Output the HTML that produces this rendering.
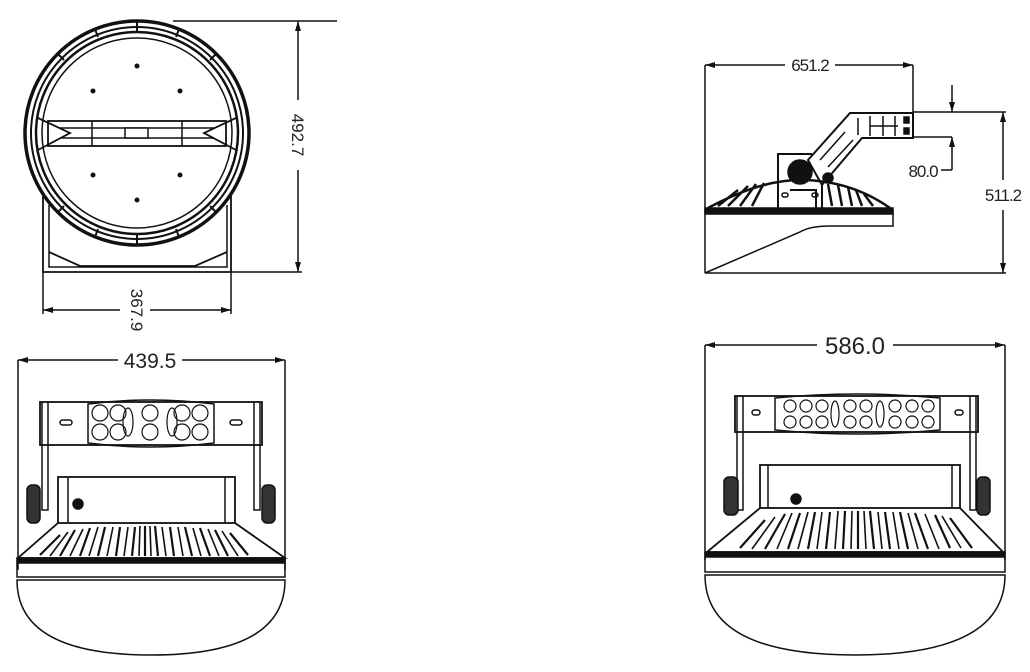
<!DOCTYPE html>
<html><head><meta charset="utf-8"><style>
html,body{margin:0;padding:0;background:#fff;}
svg{display:block;}
text{font-family:"Liberation Sans",sans-serif;fill:#222;}
</style></head><body>
<svg width="1030" height="672" viewBox="0 0 1030 672" xmlns="http://www.w3.org/2000/svg">
<defs>
<marker id="a" markerWidth="10" markerHeight="6" refX="10" refY="3" orient="auto" markerUnits="userSpaceOnUse"><path d="M0,0 L10,3 L0,6Z" fill="#111"/></marker>
</defs>
<g stroke="#111" fill="none" stroke-width="1.5">
<!-- TOP LEFT -->
<circle cx="137" cy="133" r="112" stroke-width="3.5"/>
<circle cx="137" cy="133" r="106" stroke-width="2"/>
<circle cx="137" cy="133" r="101" stroke-width="2.5"/>
<circle cx="137" cy="133" r="95" stroke-width="1.5"/>
<g stroke-width="2">
<line x1="137" y1="21" x2="137" y2="32"/><line x1="137" y1="234" x2="137" y2="245"/>
<line x1="58" y1="54" x2="64" y2="60"/><line x1="216" y1="54" x2="210" y2="60"/>
<line x1="58" y1="212" x2="64" y2="206"/><line x1="216" y1="212" x2="210" y2="206"/>
<line x1="95" y1="29" x2="98" y2="37"/><line x1="179" y1="29" x2="176" y2="37"/>
<line x1="95" y1="237" x2="98" y2="229"/><line x1="179" y1="237" x2="176" y2="229"/>
</g>
<rect x="48" y="121" width="178" height="25" stroke-width="1.8"/>
<line x1="60" y1="128" x2="214" y2="128"/><line x1="60" y1="138" x2="214" y2="138"/>
<line x1="92" y1="121" x2="92" y2="146"/><line x1="182" y1="121" x2="182" y2="146"/>
<rect x="125" y="128" width="23" height="10" fill="#fff"/>
<path d="M38,118 L70,133 L38,150 M236,118 L204,133 L236,150" stroke-width="1.8"/>
<g fill="#111" stroke="none">
<circle cx="137" cy="66" r="2.5"/><circle cx="93" cy="91" r="2.5"/><circle cx="180" cy="91" r="2.5"/>
<circle cx="93" cy="175" r="2.5"/><circle cx="180" cy="175" r="2.5"/><circle cx="137" cy="200" r="2.5"/>
</g>
<path d="M43,196 L43,272 L231,272 L231,196" stroke-width="1.8"/>
<path d="M49,205 L49,267 L227,267 L227,205"/>
<path d="M49,252 L80,266 L195,266 L227,252" stroke-width="1.8"/>
<!-- 492.7 -->
<line x1="173" y1="21" x2="337" y2="21"/>
<line x1="231" y1="272" x2="302" y2="272"/>
<line x1="298" y1="100" x2="298" y2="21" marker-end="url(#a)"/>
<line x1="298" y1="170" x2="298" y2="272" marker-end="url(#a)"/>
<!-- 367.9 -->
<line x1="43" y1="272" x2="43" y2="314"/>
<line x1="231" y1="272" x2="231" y2="314"/>
<line x1="120" y1="310" x2="43" y2="310" marker-end="url(#a)"/>
<line x1="150" y1="310" x2="231" y2="310" marker-end="url(#a)"/>

<!-- TOP RIGHT -->
<line x1="705" y1="65" x2="705" y2="273"/>
<line x1="913" y1="65" x2="913" y2="138"/>
<line x1="785" y1="65" x2="705" y2="65" marker-end="url(#a)"/>
<line x1="835" y1="65" x2="913" y2="65" marker-end="url(#a)"/>
<line x1="705" y1="273" x2="1006" y2="273"/>
<line x1="913" y1="112" x2="1006" y2="112"/>
<line x1="1003" y1="180" x2="1003" y2="112" marker-end="url(#a)"/>
<line x1="1003" y1="210" x2="1003" y2="273" marker-end="url(#a)"/>
<line x1="952" y1="85" x2="952" y2="112" marker-end="url(#a)"/>
<line x1="913" y1="137" x2="952" y2="137"/>
<line x1="952" y1="170" x2="952" y2="137" marker-end="url(#a)"/>
<line x1="941" y1="170" x2="952" y2="170"/>
<path d="M705,273 L800,232 Q810,226 830,226 L893,226 L893,210" />
<rect x="705" y="208" width="188" height="6" fill="#111"/>
<path d="M708,208 Q760,180 800,180 Q850,180 890,208" stroke-width="2.5"/>
<path d="M718,206 L738,190 M728,206 L748,186 M740,206 L756,184 M752,206 L764,183 M832,206 L828,184 M842,206 L838,185 M852,206 L848,187 M862,206 L856,190 M873,206 L864,194" stroke-width="2.5"/>
<path d="M778,210 L778,154 L812,154 M822,185 L822,210 M790,190 L816,190 L816,210" stroke-width="2"/>
<rect x="782" y="193" width="6" height="4" rx="2"/><rect x="812" y="193" width="6" height="4" rx="2"/>
<circle cx="800" cy="172" r="12" fill="#111"/>
<circle cx="828" cy="178" r="5" fill="#111"/>
<path d="M808,160 L850,113 L913,113 L913,138 L862,138 L822,185 Z" stroke-width="2"/>
<path d="M820,160 L845,132 M828,167 L853,140 M858,118 L858,135 M870,116 L870,136 M883,116 L883,136 M895,116 L895,136 M870,126 L898,126"/>
<rect x="904" y="117" width="5" height="6" fill="#111"/><rect x="904" y="128" width="5" height="6" fill="#111"/>

<!-- BOTTOM LEFT -->
<line x1="18" y1="360" x2="18" y2="570"/>
<line x1="285" y1="360" x2="285" y2="570"/>
<line x1="118" y1="360" x2="18" y2="360" marker-end="url(#a)"/>
<line x1="182" y1="360" x2="285" y2="360" marker-end="url(#a)"/>
<rect x="40" y="402" width="222" height="43" stroke-width="1.8"/>
<path d="M88,404 Q150,396 214,404 L214,443 Q150,451 88,443 Z"/>
<g stroke-width="1.2"><circle cx="100" cy="413" r="8"/><circle cx="100" cy="432" r="8"/><circle cx="118" cy="413" r="8"/><circle cx="118" cy="432" r="8"/><ellipse cx="128" cy="422" rx="5" ry="14"/><circle cx="150" cy="413" r="8"/><circle cx="150" cy="432" r="8"/><ellipse cx="172" cy="422" rx="5" ry="14"/><circle cx="182" cy="413" r="8"/><circle cx="182" cy="432" r="8"/><circle cx="200" cy="413" r="8"/><circle cx="200" cy="432" r="8"/></g>
<rect x="60" y="420" width="12" height="5" rx="2.5"/><rect x="230" y="420" width="12" height="5" rx="2.5"/>
<path d="M42,402 L42,510 L48,510 L48,402 M254,402 L254,510 L260,510 L260,402"/>
<rect x="27" y="485" width="13" height="38" rx="5" fill="#333"/>
<rect x="262" y="485" width="13" height="38" rx="5" fill="#333"/>
<rect x="58" y="477" width="177" height="46" stroke-width="1.8"/>
<line x1="68" y1="477" x2="68" y2="523"/><line x1="225" y1="477" x2="225" y2="523"/>
<circle cx="78" cy="504" r="5" fill="#111"/>
<path d="M58,523 L18,558 L285,558 L235,523" stroke-width="1.8"/>
<path d="M60,535 L40,555 M75,530 L60,556 M90,528 L80,556 M105,527 L98,556 M120,527 L116,556 M135,527 L132,556 M145,526 L145,556 M155,526 L158,556 M170,527 L174,556 M185,527 L192,556 M200,528 L210,556 M215,530 L228,556 M230,533 L248,555" stroke-width="2.2"/>
<path d="M68,532 L50,556 M83,529 L70,556 M98,527 L89,556 M113,527 L107,556 M128,527 L124,556 M140,526 L139,556 M150,526 L151,556 M162,527 L166,556 M178,527 L183,556 M193,528 L201,556 M208,529 L219,556 M222,531 L238,556" stroke-width="1.6"/>
<rect x="17" y="558" width="268" height="5" fill="#111"/>
<path d="M17,563 L17,577 L285,577 L285,563"/>
<path d="M17,580 Q17,655 151,655 Q285,655 285,580 Z"/>

<!-- BOTTOM RIGHT -->
<line x1="705" y1="345" x2="705" y2="560"/>
<line x1="1005" y1="345" x2="1005" y2="560"/>
<line x1="817" y1="345" x2="705" y2="345" marker-end="url(#a)"/>
<line x1="893" y1="345" x2="1005" y2="345" marker-end="url(#a)"/>
<rect x="735" y="396" width="243" height="36" stroke-width="1.8"/>
<path d="M775,398 Q857,390 940,398 L940,430 Q857,438 775,430 Z"/>
<g stroke-width="1.2"><circle cx="790" cy="406" r="6"/><circle cx="790" cy="422" r="6"/><circle cx="806" cy="406" r="6"/><circle cx="806" cy="422" r="6"/><circle cx="822" cy="406" r="6"/><circle cx="822" cy="422" r="6"/><ellipse cx="835" cy="414" rx="4" ry="13"/><circle cx="850" cy="406" r="6"/><circle cx="850" cy="422" r="6"/><circle cx="866" cy="406" r="6"/><circle cx="866" cy="422" r="6"/><ellipse cx="880" cy="414" rx="4" ry="13"/><circle cx="895" cy="406" r="6"/><circle cx="895" cy="422" r="6"/><circle cx="912" cy="406" r="6"/><circle cx="912" cy="422" r="6"/><circle cx="928" cy="406" r="6"/><circle cx="928" cy="422" r="6"/></g>
<rect x="752" y="410" width="8" height="5" rx="2.5"/><rect x="955" y="410" width="8" height="5" rx="2.5"/>
<path d="M737,396 L737,510 L743,510 L743,396 M970,396 L970,510 L976,510 L976,396"/>
<rect x="724" y="477" width="14" height="38" rx="5" fill="#333"/>
<rect x="977" y="477" width="13" height="38" rx="5" fill="#333"/>
<rect x="760" y="465" width="200" height="43" stroke-width="1.8"/>
<line x1="768" y1="465" x2="768" y2="508"/><line x1="952" y1="465" x2="952" y2="508"/>
<circle cx="796" cy="499" r="5" fill="#111"/>
<path d="M760,508 L707,552 L1003,552 L960,508" stroke-width="1.8"/>
<path d="M765,520 L740,548 M785,514 L765,549 M800,513 L788,549 M815,512 L808,549 M830,512 L826,549 M845,511 L843,549 M858,511 L858,549 M870,511 L874,549 M885,512 L890,549 M900,512 L908,549 M915,513 L928,549 M935,515 L950,548 M950,518 L972,548" stroke-width="2.2"/>
<path d="M775,517 L752,549 M792,513 L777,549 M808,512 L798,549 M822,512 L817,549 M838,511 L835,549 M852,511 L851,549 M864,511 L866,549 M878,512 L882,549 M893,512 L899,549 M908,513 L918,549 M925,514 L939,549 M942,516 L961,548" stroke-width="1.6"/>
<rect x="705" y="552" width="300" height="5" fill="#111"/>
<path d="M705,557 L705,572 L1005,572 L1005,557"/>
<path d="M705,575 Q705,655 855,655 Q1005,655 1005,575 Z"/>
</g>
<text x="0" y="0" font-size="17" text-anchor="middle" transform="translate(292,135) rotate(90)">492.7</text>
<text x="0" y="0" font-size="17" text-anchor="middle" transform="translate(131,310) rotate(90)">367.9</text>
<text x="810" y="71" font-size="17" text-anchor="middle" letter-spacing="-1">651.2</text>
<rect x="985" y="182" width="36" height="24" fill="#fff"/>
<text x="1003" y="201" font-size="17" text-anchor="middle" letter-spacing="-1">511.2</text>
<text x="923" y="177" font-size="17" text-anchor="middle" letter-spacing="-1">80.0</text>
<text x="150" y="368" font-size="21" text-anchor="middle">439.5</text>
<text x="855" y="354" font-size="24" text-anchor="middle">586.0</text>
</svg>
</body></html>
